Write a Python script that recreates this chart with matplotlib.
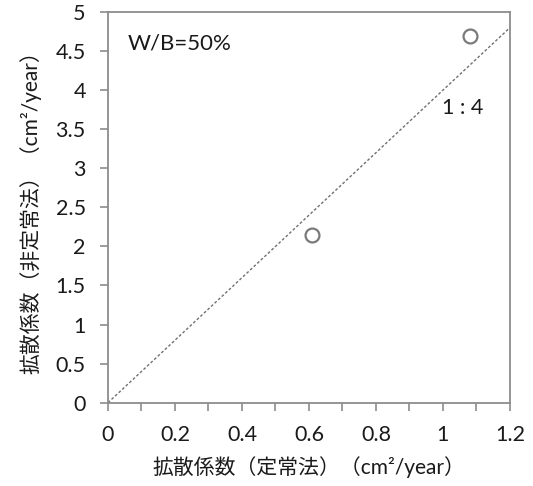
import matplotlib
matplotlib.use('Agg')
import matplotlib.pyplot as plt
from matplotlib.ticker import MultipleLocator

# Datos
x_steady = [0.61, 1.08]      # 拡散係数（定常法）
y_nonsteady = [2.14, 4.69]   # 拡散係数（非定常法）
ratio = 4.0                  # línea 1:4
x_line = [0, 1.2]
x_ticks = [0, 0.2, 0.4, 0.6, 0.8, 1.0, 1.2]
x_ticklabels = ['0', '0.2', '0.4', '0.6', '0.8', '1', '1.2']
y_ticks = [0, 0.5, 1, 1.5, 2, 2.5, 3, 3.5, 4, 4.5, 5]
y_ticklabels = ['0', '0.5', '1', '1.5', '2', '2.5', '3', '3.5', '4', '4.5', '5']

fonts = ['Lato', 'Noto Sans CJK JP', 'DejaVu Sans']
plt.rcParams['font.family'] = fonts

grey = '#8c8c8c'
ink = '#1a1a1a'

fig = plt.figure(figsize=(5.33, 4.86), dpi=100)
ax = fig.add_axes([0.2026, 0.1714, 0.7542, 0.8039])

ax.plot(x_line, [ratio * v for v in x_line], linestyle=(0, (2, 1.5)),
        color='#707070', linewidth=1.0)
ax.plot(x_steady, y_nonsteady, linestyle='none', marker='o', markersize=10,
        markerfacecolor='white', markeredgecolor='#7a7a7a', markeredgewidth=1.6)

ax.set_xlim(0, 1.2)
ax.set_ylim(0, 5)
ax.set_xticks(x_ticks)
ax.set_xticklabels(x_ticklabels)
ax.xaxis.set_minor_locator(MultipleLocator(0.1))
ax.set_yticks(y_ticks)
ax.set_yticklabels(y_ticklabels)

for s in ax.spines.values():
    s.set_color(grey)
    s.set_linewidth(1.3)

ax.tick_params(which='both', direction='out', color=grey, width=1.2,
               labelsize=15.5, labelcolor=ink)
ax.tick_params(which='major', length=6)
ax.tick_params(which='minor', length=6)
ax.tick_params(axis='x', pad=10)
ax.tick_params(axis='y', pad=10)

ax.set_xlabel('拡散係数（定常法）（cm²/year）', fontsize=15, color=ink, labelpad=8)
ax.set_ylabel('拡散係数（非定常法）（cm²/year）', fontsize=15, color=ink, labelpad=10)

ax.text(0.06, 4.6, 'W/B=50%', fontsize=16, va='center', ha='left', color=ink)
ax.text(1.06, 3.77, '1 : 4', fontsize=15.5, va='center', ha='center', color=ink)

plt.savefig('out.png', dpi=100)
